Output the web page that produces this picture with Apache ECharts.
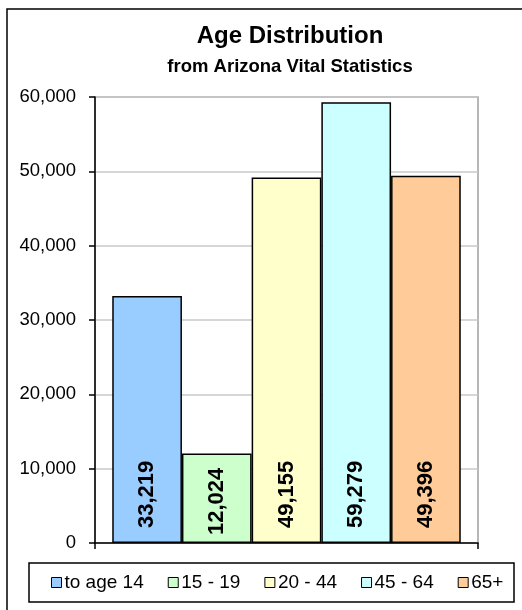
<!DOCTYPE html>
<html>
<head>
<meta charset="utf-8">
<script src="https://cdn.jsdelivr.net/npm/echarts@6/dist/echarts.min.js"></script>
<style>
html,body{margin:0;padding:0;background:#fff;}
#chart{width:522px;height:610px;}
</style>
</head>
<body>
<div id="chart"></div>
<script>
const chartTitle = 'Age Distribution';
const chartSubtitle = 'from Arizona Vital Statistics';
const ageGroups = ['to age 14', '15 - 19', '20 - 44', '45 - 64', '65+'];
const populations = [33219, 12024, 49155, 59279, 49396];
const yMin = 0, yMax = 60000, yStep = 10000;

const barColors = ['#99CCFF', '#CCFFCC', '#FFFFCC', '#CCFFFF', '#FFCC99'];
const labelDistance = [15, 8, 15, 15, 15];
const FONT = "'Liberation Sans', Arial, sans-serif";
const fmt = v => Number(v).toLocaleString('en-US');

const chart = echarts.init(document.getElementById('chart'), null, {renderer: 'canvas'});

const series = ageGroups.map((name, i) => ({
  name: name,
  type: 'bar',
  data: [populations[i]],
  barGap: '0%',
  barCategoryGap: '9%',
  itemStyle: { color: barColors[i], borderColor: '#000', borderWidth: 1.5 },
  label: {
    show: true,
    position: 'insideBottom',
    rotate: 90,
    align: 'left',
    verticalAlign: 'middle',
    distance: labelDistance[i],
    formatter: p => fmt(p.value),
    color: '#000',
    fontFamily: FONT,
    fontWeight: 'bold',
    fontSize: 22
  },
  emphasis: { disabled: true },
  animation: false
}));

chart.setOption({
  animation: false,
  backgroundColor: '#fff',
  title: {
    text: chartTitle,
    subtext: chartSubtitle,
    left: 290,
    textAlign: 'center',
    top: 24,
    padding: 0,
    itemGap: 10,
    textStyle: { fontFamily: FONT, fontWeight: 'bold', fontSize: 24, color: '#000', lineHeight: 24 },
    subtextStyle: { fontFamily: FONT, fontWeight: 'bold', fontSize: 18.5, color: '#000', lineHeight: 18 }
  },
  graphic: [
    { type: 'rect', z: -10, shape: { x: 7, y: 9, width: 600, height: 700 }, style: { fill: 'none', stroke: '#000', lineWidth: 1.5 } },
    { type: 'rect', z: -5, shape: { x: 29, y: 563, width: 485, height: 39 }, style: { fill: '#fff', stroke: '#000', lineWidth: 1.5 } }
  ],
  legend: {
    data: ageGroups,
    left: 51,
    top: 573,
    padding: 0,
    itemGap: 24,
    itemWidth: 10,
    itemHeight: 10,
    icon: 'rect',
    selectedMode: false,
    itemStyle: { borderColor: '#000', borderWidth: 1 },
    textStyle: { fontFamily: FONT, fontSize: 19, color: '#000', padding: [3, 0, 0, -2] }
  },
  grid: {
    left: 95, top: 97, right: 44, bottom: 67,
    show: true, borderColor: '#a0a0a0', borderWidth: 1.5, backgroundColor: 'transparent'
  },
  xAxis: {
    type: 'category',
    data: [''],
    axisLine: { show: true, lineStyle: { color: '#000', width: 1.5 } },
    axisTick: { show: true, length: 6, lineStyle: { color: '#000', width: 1.5 } },
    axisLabel: { show: false },
    splitLine: { show: false }
  },
  yAxis: {
    type: 'value',
    min: yMin, max: yMax, interval: yStep,
    axisLine: { show: true, lineStyle: { color: '#000', width: 1.5 } },
    axisTick: { show: true, length: 6, lineStyle: { color: '#000', width: 1.5 } },
    axisLabel: { formatter: v => fmt(v), fontFamily: FONT, fontSize: 18.5, color: '#000', margin: 19 },
    splitLine: { show: true, lineStyle: { color: '#c8c8c8', width: 1.5 } }
  },
  series: series
});
</script>
</body>
</html>
